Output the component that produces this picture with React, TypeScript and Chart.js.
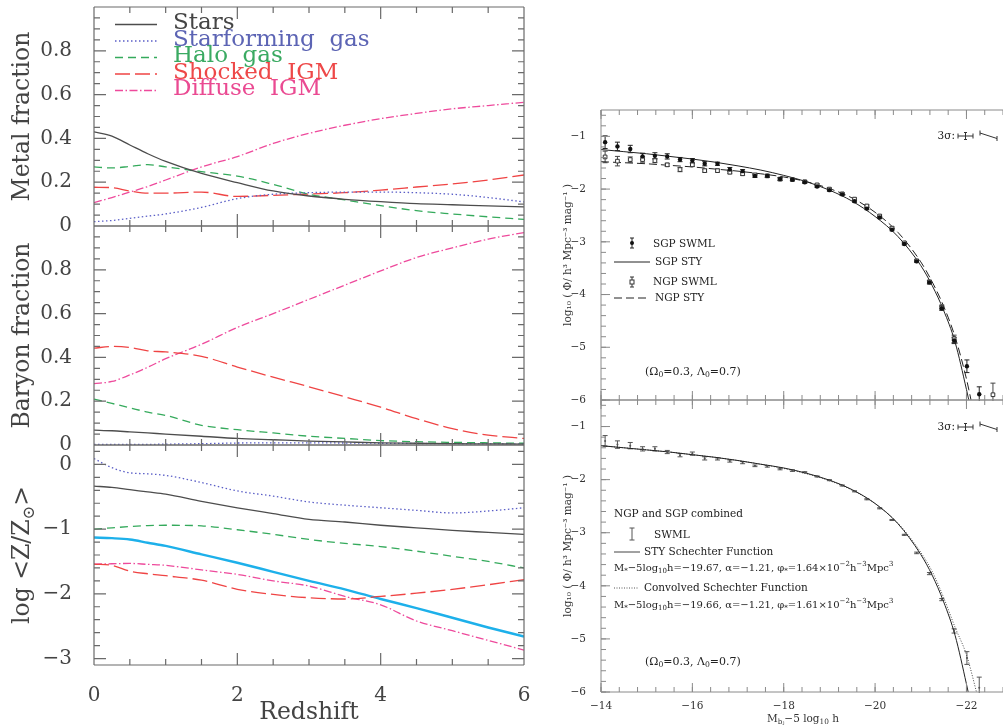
import React, { useEffect, useRef } from 'react';
import { Chart, registerables } from 'chart.js';
Chart.register(...registerables);

// ---------------- Left column data (redshift) ----------------
const Z = [0, 0.25, 0.5, 0.75, 1, 1.5, 2, 2.5, 3, 3.5, 4, 4.5, 5, 5.5, 6];
const Z_MAJOR = [0, 2, 4, 6];

const MF_STARS = [0.43, 0.41, 0.37, 0.33, 0.295, 0.24, 0.198, 0.16, 0.137, 0.122, 0.111, 0.102, 0.097, 0.092, 0.087];
const MF_SF = [0.02, 0.025, 0.035, 0.045, 0.055, 0.085, 0.125, 0.145, 0.152, 0.155, 0.155, 0.152, 0.145, 0.13, 0.11];
const MF_HALO = [0.27, 0.265, 0.272, 0.28, 0.27, 0.248, 0.228, 0.19, 0.145, 0.119, 0.093, 0.07, 0.055, 0.042, 0.03];
const MF_SHOCK = [0.177, 0.175, 0.16, 0.15, 0.15, 0.155, 0.135, 0.14, 0.146, 0.152, 0.164, 0.178, 0.192, 0.21, 0.233];
const MF_DIFF = [0.107, 0.13, 0.155, 0.18, 0.21, 0.27, 0.317, 0.377, 0.423, 0.46, 0.49, 0.514, 0.535, 0.55, 0.565];

const BF_STARS = [0.068, 0.065, 0.06, 0.055, 0.05, 0.04, 0.03, 0.024, 0.018, 0.014, 0.01, 0.008, 0.006, 0.005, 0.004];
const BF_SF = [0.003, 0.003, 0.003, 0.003, 0.004, 0.006, 0.009, 0.01, 0.01, 0.009, 0.008, 0.007, 0.006, 0.005, 0.004];
const BF_HALO = [0.21, 0.19, 0.17, 0.15, 0.135, 0.09, 0.07, 0.055, 0.04, 0.03, 0.02, 0.015, 0.012, 0.01, 0.008];
const BF_SHOCK = [0.442, 0.45, 0.445, 0.43, 0.425, 0.405, 0.356, 0.31, 0.266, 0.22, 0.173, 0.12, 0.075, 0.045, 0.03];
const BF_DIFF = [0.28, 0.29, 0.32, 0.355, 0.394, 0.46, 0.537, 0.6, 0.665, 0.73, 0.795, 0.856, 0.9, 0.94, 0.97];

const LZ_STARS = [-0.335, -0.355, -0.39, -0.425, -0.46, -0.57, -0.67, -0.76, -0.85, -0.89, -0.94, -0.98, -1.02, -1.05, -1.08];
const LZ_SF = [0.09, -0.05, -0.13, -0.145, -0.17, -0.28, -0.41, -0.49, -0.58, -0.63, -0.67, -0.71, -0.75, -0.72, -0.67];
const LZ_HALO = [-1.0, -0.98, -0.96, -0.945, -0.94, -0.95, -1.01, -1.08, -1.16, -1.22, -1.27, -1.34, -1.42, -1.5, -1.6];
const LZ_MEAN = [-1.13, -1.14, -1.16, -1.21, -1.26, -1.39, -1.52, -1.66, -1.8, -1.93, -2.08, -2.22, -2.37, -2.52, -2.66];
const LZ_SHOCK = [-1.54, -1.56, -1.65, -1.69, -1.72, -1.79, -1.93, -2.01, -2.06, -2.08, -2.04, -1.99, -1.93, -1.86, -1.78];
const LZ_DIFF = [-1.54, -1.535, -1.53, -1.545, -1.56, -1.63, -1.7, -1.8, -1.88, -2.04, -2.17, -2.42, -2.57, -2.72, -2.87];

const FRAC_LABELS = [0, 0.2, 0.4, 0.6, 0.8];
const LOGZ_LABELS = [-3, -2, -1, 0];

// ---------------- Right column data (luminosity function) ----------------
const LF_M = [-14.09, -14.36, -14.64, -14.91, -15.18, -15.45, -15.73, -16.0, -16.27, -16.55, -16.82, -17.1, -17.37, -17.64, -17.92, -18.19, -18.46, -18.73, -19.0, -19.28, -19.55, -19.82, -20.1, -20.37, -20.64, -20.91, -21.19, -21.46, -21.73, -22.01, -22.28];
const SGP_PHI = [-1.11, -1.19, -1.24, -1.38, -1.37, -1.38, -1.44, -1.46, -1.52, -1.52, -1.63, -1.66, -1.75, -1.75, -1.81, -1.82, -1.87, -1.95, -2.02, -2.1, -2.23, -2.37, -2.54, -2.77, -3.04, -3.37, -3.77, -4.26, -4.87, -5.36, -5.89];
const SGP_ERR = [0.12, 0.08, 0.07, 0.06, 0.06, 0.05, 0.04, 0.04, 0.04, 0.03, 0.04, 0.03, 0.03, 0.03, 0.03, 0.02, 0.02, 0.02, 0.02, 0.02, 0.02, 0.02, 0.02, 0.02, 0.02, 0.02, 0.03, 0.04, 0.06, 0.12, 0.14];

const NGP_M = [-14.09, -14.36, -14.64, -14.91, -15.18, -15.45, -15.73, -16.0, -16.27, -16.55, -16.82, -17.1, -17.37, -17.64, -17.92, -18.19, -18.46, -18.73, -19.0, -19.28, -19.55, -19.82, -20.1, -20.37, -20.64, -20.91, -21.19, -21.46, -21.73, -22.58];
const NGP_PHI = [-1.39, -1.47, -1.44, -1.44, -1.46, -1.54, -1.63, -1.54, -1.65, -1.65, -1.68, -1.71, -1.73, -1.75, -1.81, -1.82, -1.86, -1.92, -2.0, -2.09, -2.19, -2.32, -2.51, -2.74, -3.02, -3.36, -3.76, -4.24, -4.84, -5.9];
const NGP_ERR = [0.11, 0.09, 0.05, 0.05, 0.04, 0.03, 0.04, 0.03, 0.03, 0.03, 0.03, 0.03, 0.02, 0.02, 0.02, 0.02, 0.02, 0.02, 0.02, 0.02, 0.02, 0.02, 0.02, 0.02, 0.02, 0.02, 0.03, 0.04, 0.07, 0.22];

const COMB_PHI = [-1.27, -1.34, -1.36, -1.42, -1.42, -1.48, -1.54, -1.51, -1.6, -1.61, -1.65, -1.68, -1.74, -1.75, -1.8, -1.83, -1.86, -1.94, -2.01, -2.11, -2.22, -2.37, -2.54, -2.76, -3.04, -3.38, -3.77, -4.26, -4.85, -5.36, -5.92];
const COMB_ERR = [0.1, 0.07, 0.06, 0.04, 0.04, 0.03, 0.03, 0.03, 0.03, 0.02, 0.02, 0.02, 0.015, 0.015, 0.015, 0.015, 0.01, 0.01, 0.01, 0.01, 0.01, 0.01, 0.01, 0.01, 0.01, 0.015, 0.02, 0.02, 0.04, 0.12, 0.2];

const STY_M = [-14, -14.5, -15, -15.5, -16, -16.5, -17, -17.5, -18, -18.5, -19, -19.5, -20, -20.5, -21, -21.25, -21.5, -21.75, -22, -22.1];
const SGP_STY = [-1.25, -1.29, -1.33, -1.38, -1.43, -1.49, -1.56, -1.64, -1.74, -1.86, -2.02, -2.23, -2.52, -2.9, -3.45, -3.83, -4.3, -4.9, -5.8, -6.2];
const NGP_STY = [-1.48, -1.5, -1.52, -1.55, -1.58, -1.62, -1.66, -1.71, -1.77, -1.86, -1.99, -2.17, -2.44, -2.82, -3.38, -3.76, -4.22, -4.8, -5.6, -6.0];
const COMB_STY = [-1.36, -1.4, -1.44, -1.48, -1.53, -1.58, -1.64, -1.71, -1.78, -1.88, -2.01, -2.19, -2.45, -2.83, -3.41, -3.8, -4.3, -4.93, -5.85, -6.25];
const CONV_M = [-14, -14.5, -15, -15.5, -16, -16.5, -17, -17.5, -18, -18.5, -19, -19.5, -20, -20.5, -21, -21.25, -21.5, -21.75, -22, -22.25];
const CONV_STY = [-1.36, -1.4, -1.44, -1.48, -1.53, -1.58, -1.64, -1.71, -1.79, -1.89, -2.02, -2.2, -2.45, -2.82, -3.37, -3.73, -4.22, -4.78, -5.3, -6.1];

const MAG_LABELS = [-14, -16, -18, -20, -22];
const PHI_LABELS = [-6, -5, -4, -3, -2, -1];

// ---------------- Styling ----------------
const FAM = "'DejaVu Serif', serif";
const SERIES = [
  { name: 'Stars', color: '#4d4d4d', text: '#454545', dash: [] as number[] },
  { name: 'Starforming  gas', color: '#5b5fc7', text: '#5c64b4', dash: [1.5, 2.5] },
  { name: 'Halo  gas', color: '#35aa5c', text: '#3aaa62', dash: [8, 5] },
  { name: 'Shocked  IGM', color: '#ef4444', text: '#ee4848', dash: [15, 5] },
  { name: 'Diffuse  IGM', color: '#ee4a9c', text: '#ea4a92', dash: [8, 2.5, 1.5, 2.5] },
];
const MEAN_COLOR = '#1db0ea';

type Part = { t: string; sub?: boolean; sup?: boolean };

function fontStr(size: number) {
  return `${size}px ${FAM}`;
}

function drawRich(ctx: CanvasRenderingContext2D, parts: Part[], x: number, y: number, size: number, color: string, align: 'left' | 'center' | 'right' = 'left', rot = 0) {
  ctx.save();
  ctx.translate(x, y);
  if (rot) ctx.rotate(rot);
  ctx.fillStyle = color;
  ctx.textBaseline = 'middle';
  ctx.textAlign = 'left';
  const widths = parts.map((p) => {
    ctx.font = fontStr(p.sub || p.sup ? size * 0.7 : size);
    return ctx.measureText(p.t).width;
  });
  const total = widths.reduce((a, b) => a + b, 0);
  let cx = align === 'center' ? -total / 2 : align === 'right' ? -total : 0;
  parts.forEach((p, i) => {
    ctx.font = fontStr(p.sub || p.sup ? size * 0.7 : size);
    const dy = p.sub ? size * 0.3 : p.sup ? -size * 0.35 : 0;
    ctx.fillText(p.t, cx, dy);
    cx += widths[i];
  });
  ctx.restore();
}

function range(a: number, b: number, step: number) {
  const out: number[] = [];
  for (let v = a; v <= b + 1e-9; v += step) out.push(Math.round(v * 1000) / 1000);
  return out;
}

function lineDs(xs: number[], ys: number[], color: string, dash: number[], width = 1.3) {
  return {
    data: xs.map((x, i) => ({ x, y: ys[i] })),
    borderColor: color,
    backgroundColor: color,
    borderWidth: width,
    borderDash: dash,
    pointRadius: 0,
    cubicInterpolationMode: 'monotone',
    fill: false,
  };
}

type FrameCfg = {
  color: string; width: number; sides: string[];
  xMajor: number[]; xMinor: number[]; yMajor: number[]; yMinor: number[];
  xMajLen: number; xMinLen: number; yMajLen: number; yMinLen: number;
};

function framePlugin(cfg: FrameCfg) {
  return {
    id: 'frame',
    afterDatasetsDraw(chart: any) {
      const { ctx, chartArea: a, scales } = chart;
      const xs = scales.x, ys = scales.y;
      const L = a.left, R = a.right, T = a.top, B = a.bottom;
      const has = (s: string) => cfg.sides.includes(s);
      ctx.save();
      ctx.strokeStyle = cfg.color;
      ctx.lineWidth = cfg.width;
      ctx.setLineDash([]);
      ctx.beginPath();
      if (has('top')) { ctx.moveTo(L, T); ctx.lineTo(R, T); }
      if (has('bottom')) { ctx.moveTo(L, B); ctx.lineTo(R, B); }
      if (has('left')) { ctx.moveTo(L, T); ctx.lineTo(L, B); }
      if (has('right')) { ctx.moveTo(R, T); ctx.lineTo(R, B); }
      const xt = (vals: number[], len: number) => vals.forEach((v) => {
        const p = xs.getPixelForValue(v);
        if (p < L - 0.5 || p > R + 0.5) return;
        if (has('bottom')) { ctx.moveTo(p, B); ctx.lineTo(p, B - len); }
        if (has('top')) { ctx.moveTo(p, T); ctx.lineTo(p, T + len); }
      });
      const yt = (vals: number[], len: number) => vals.forEach((v) => {
        const p = ys.getPixelForValue(v);
        if (p < T - 0.5 || p > B + 0.5) return;
        if (has('left')) { ctx.moveTo(L, p); ctx.lineTo(L + len, p); }
        if (has('right')) { ctx.moveTo(R, p); ctx.lineTo(R - len, p); }
      });
      xt(cfg.xMajor, cfg.xMajLen);
      xt(cfg.xMinor, cfg.xMinLen);
      yt(cfg.yMajor, cfg.yMajLen);
      yt(cfg.yMinor, cfg.yMinLen);
      ctx.stroke();
      ctx.restore();
    },
  };
}

type ErrSpec = { index: number; errs: number[]; cap: number; color: string };
function errorPlugin(specs: ErrSpec[]) {
  return {
    id: 'errbars',
    beforeDatasetsDraw(chart: any) {
      const { ctx, chartArea: a, scales } = chart;
      const ys = scales.y;
      ctx.save();
      ctx.beginPath();
      ctx.rect(a.left, a.top, a.right - a.left, a.bottom - a.top + 1);
      ctx.clip();
      specs.forEach((sp) => {
        const meta = chart.getDatasetMeta(sp.index);
        const ds = chart.data.datasets[sp.index];
        ctx.strokeStyle = sp.color;
        ctx.lineWidth = 1;
        ctx.setLineDash([]);
        meta.data.forEach((el: any, i: number) => {
          const v = ds.data[i].y;
          const e = sp.errs[i];
          const x = el.x;
          const y1 = ys.getPixelForValue(v + e);
          const y2 = ys.getPixelForValue(v - e);
          ctx.beginPath();
          ctx.moveTo(x, y1); ctx.lineTo(x, y2);
          ctx.moveTo(x - sp.cap, y1); ctx.lineTo(x + sp.cap, y1);
          ctx.moveTo(x - sp.cap, y2); ctx.lineTo(x + sp.cap, y2);
          ctx.stroke();
        });
      });
      ctx.restore();
    },
  };
}

function annotPlugin(id: string, draw: (ctx: CanvasRenderingContext2D) => void) {
  return { id, afterDraw(chart: any) { draw(chart.ctx); } };
}

const LEFT_TICK_FONT = { family: FAM, size: 20 };
const LEFT_TITLE_FONT = { family: FAM, size: 23.5 };
const RIGHT_TICK_FONT = { family: FAM, size: 10.5 };

function fmtFrac(v: number) { return v === 0 ? '0' : v.toFixed(1); }
function fmtNeg(v: number) { return v === 0 ? '0' : (v < 0 ? '\u2212' : '') + Math.abs(v); }

function leftConfig(o: {
  datasets: any[]; yMin: number; yMax: number; yLabels: number[]; yFmt: (v: number) => string;
  yTitle: string | null; showX: boolean; padTop: number; xHeight: number;
  yMinor: number[]; yMajor: number[]; plugins: any[];
}) {
  return {
    type: 'line',
    data: { datasets: o.datasets },
    options: {
      responsive: false, maintainAspectRatio: false, animation: false, devicePixelRatio: 1, events: [],
      layout: { padding: { top: o.padTop, right: 16, left: 0, bottom: 0 } },
      plugins: { legend: { display: false }, tooltip: { enabled: false } },
      scales: {
        x: {
          type: 'linear', min: 0, max: 6,
          afterBuildTicks: (s: any) => { s.ticks = Z_MAJOR.map((v) => ({ value: v })); },
          afterFit: (s: any) => { s.height = o.xHeight; s.paddingLeft = 0; s.paddingRight = 0; },
          grid: { display: false }, border: { display: false },
          ticks: { display: o.showX, padding: 11, font: LEFT_TICK_FONT, color: '#444', maxRotation: 0, callback: (v: number) => String(v) },
          title: { display: o.showX, text: 'Redshift', font: LEFT_TITLE_FONT, color: '#444', padding: { top: 0, bottom: 1 } },
        },
        y: {
          type: 'linear', min: o.yMin, max: o.yMax,
          afterBuildTicks: (s: any) => { s.ticks = o.yLabels.map((v) => ({ value: v })); },
          afterFit: (s: any) => { s.width = 94; s.paddingTop = 0; s.paddingBottom = 0; },
          grid: { display: false }, border: { display: false },
          ticks: { padding: 14, font: LEFT_TICK_FONT, color: '#444', callback: (v: number) => o.yFmt(v) },
          title: { display: !!o.yTitle, text: o.yTitle || '', font: LEFT_TITLE_FONT, color: '#444', padding: { top: 9, bottom: 0 } },
        },
      },
    },
    plugins: [
      framePlugin({
        color: '#6a6a6a', width: 1.2, sides: ['top', 'bottom', 'left', 'right'],
        xMajor: Z_MAJOR, xMinor: range(0, 6, 0.5), yMajor: o.yMajor, yMinor: o.yMinor,
        xMajLen: 12, xMinLen: 6, yMajLen: 12, yMinLen: 6,
      }),
      ...o.plugins,
    ],
  };
}

function rightConfig(o: { datasets: any[]; showX: boolean; xHeight: number; plugins: any[] }) {
  return {
    type: 'line',
    data: { datasets: o.datasets },
    options: {
      responsive: false, maintainAspectRatio: false, animation: false, devicePixelRatio: 1, events: [],
      layout: { padding: { top: 10, right: 17, left: 0, bottom: 0 } },
      plugins: { legend: { display: false }, tooltip: { enabled: false } },
      scales: {
        x: {
          type: 'linear', min: -22.8, max: -14, reverse: true,
          afterBuildTicks: (s: any) => { s.ticks = MAG_LABELS.map((v) => ({ value: v })); },
          afterFit: (s: any) => { s.height = o.xHeight; s.paddingLeft = 0; s.paddingRight = 0; },
          grid: { display: false }, border: { display: false },
          ticks: { display: o.showX, padding: 0, font: RIGHT_TICK_FONT, color: '#333', maxRotation: 0, callback: (v: number) => fmtNeg(v) },
        },
        y: {
          type: 'linear', min: -6, max: -0.5,
          afterBuildTicks: (s: any) => { s.ticks = PHI_LABELS.map((v) => ({ value: v })); },
          afterFit: (s: any) => { s.width = 41; s.paddingTop = 0; s.paddingBottom = 0; },
          grid: { display: false }, border: { display: false },
          ticks: { padding: 7, font: RIGHT_TICK_FONT, color: '#333', callback: (v: number) => fmtNeg(v) },
          title: { display: true, text: 'log\u2081\u2080 ( \u03A6/ h\u00B3 Mpc\u207B\u00B3 mag\u207B\u00B9 )', font: { family: FAM, size: 10.5 }, color: '#333', padding: { top: 1.5, bottom: 0 } },
        },
      },
    },
    plugins: [
      framePlugin({
        color: '#8a8a8a', width: 1, sides: ['top', 'bottom', 'left'],
        xMajor: MAG_LABELS, xMinor: range(-22.8, -14, 0.4), yMajor: PHI_LABELS, yMinor: range(-6, -0.6, 0.2),
        xMajLen: 9, xMinLen: 5, yMajLen: 9, yMinLen: 5,
      }),
      ...o.plugins,
    ],
  };
}

// ---------- Annotation drawers (page coordinates minus canvas offset) ----------
function drawSigma(ctx: CanvasRenderingContext2D, ox: number, oy: number, yc: number) {
  const y = yc - oy;
  drawRich(ctx, [{ t: '3\u03C3:' }], 955 - ox, y, 10.5, '#222', 'right');
  ctx.save();
  ctx.strokeStyle = '#333';
  ctx.lineWidth = 1;
  ctx.setLineDash([]);
  ctx.beginPath();
  const x1 = 958 - ox, x2 = 973 - ox, xm = 965.5 - ox;
  ctx.moveTo(x1, y); ctx.lineTo(x2, y);
  ctx.moveTo(x1, y - 2.5); ctx.lineTo(x1, y + 2.5);
  ctx.moveTo(x2, y - 2.5); ctx.lineTo(x2, y + 2.5);
  ctx.moveTo(xm, y - 3.5); ctx.lineTo(xm, y + 3.5);
  ctx.moveTo(xm - 1.5, y - 3.5); ctx.lineTo(xm + 1.5, y - 3.5);
  ctx.moveTo(xm - 1.5, y + 3.5); ctx.lineTo(xm + 1.5, y + 3.5);
  const sx1 = 980 - ox, sy1 = y - 3, sx2 = 997 - ox, sy2 = y + 2.5;
  ctx.moveTo(sx1, sy1); ctx.lineTo(sx2, sy2);
  ctx.moveTo(sx1, sy1 - 2.5); ctx.lineTo(sx1, sy1 + 2.5);
  ctx.moveTo(sx2, sy2 - 2.5); ctx.lineTo(sx2, sy2 + 2.5);
  ctx.stroke();
  ctx.restore();
}

function seg(ctx: CanvasRenderingContext2D, x1: number, y1: number, x2: number, y2: number, color: string, dash: number[], w = 1) {
  ctx.save();
  ctx.strokeStyle = color; ctx.lineWidth = w; ctx.setLineDash(dash);
  ctx.beginPath(); ctx.moveTo(x1, y1); ctx.lineTo(x2, y2); ctx.stroke();
  ctx.restore();
}

function ibar(ctx: CanvasRenderingContext2D, x: number, y1: number, y2: number, cap: number, color: string) {
  ctx.save();
  ctx.strokeStyle = color; ctx.lineWidth = 1; ctx.setLineDash([]);
  ctx.beginPath();
  ctx.moveTo(x, y1); ctx.lineTo(x, y2);
  ctx.moveTo(x - cap, y1); ctx.lineTo(x + cap, y1);
  ctx.moveTo(x - cap, y2); ctx.lineTo(x + cap, y2);
  ctx.stroke();
  ctx.restore();
}

const OMEGA: Part[] = [{ t: '(\u03A9' }, { t: '0', sub: true }, { t: '=0.3, \u039B' }, { t: '0', sub: true }, { t: '=0.7)' }];

// ---------- Chart configs ----------
const LEGEND_Y = [24.5, 41, 57.5, 74, 90.5];

function makeL1() {
  const ys = [MF_STARS, MF_SF, MF_HALO, MF_SHOCK, MF_DIFF];
  return leftConfig({
    datasets: SERIES.map((s, i) => lineDs(Z, ys[i], s.color, s.dash)),
    yMin: 0, yMax: 1, yLabels: FRAC_LABELS, yFmt: fmtFrac, yTitle: 'Metal fraction', showX: false,
    padTop: 7, xHeight: 14, yMajor: [0, 0.2, 0.4, 0.6, 0.8, 1], yMinor: range(0, 1, 0.05),
    plugins: [annotPlugin('legendL', (ctx) => {
      SERIES.forEach((s, i) => {
        const y = LEGEND_Y[i];
        seg(ctx, 115, y, 157, y, s.color, s.dash, 1.3);
        drawRich(ctx, [{ t: s.name }], 173, y - 1, 23, s.text);
      });
    })],
  });
}

function makeL2() {
  const ys = [BF_STARS, BF_SF, BF_HALO, BF_SHOCK, BF_DIFF];
  return leftConfig({
    datasets: SERIES.map((s, i) => lineDs(Z, ys[i], s.color, s.dash)),
    yMin: 0, yMax: 1, yLabels: FRAC_LABELS, yFmt: fmtFrac, yTitle: 'Baryon fraction', showX: false,
    padTop: 6, xHeight: 15, yMajor: [0, 0.2, 0.4, 0.6, 0.8, 1], yMinor: range(0, 1, 0.05),
    plugins: [],
  });
}

function makeL3() {
  const ys = [LZ_STARS, LZ_SF, LZ_HALO, LZ_SHOCK, LZ_DIFF];
  const ds = SERIES.map((s, i) => lineDs(Z, ys[i], s.color, s.dash));
  ds.push(lineDs(Z, LZ_MEAN, MEAN_COLOR, [], 2.4));
  return leftConfig({
    datasets: ds,
    yMin: -3.1, yMax: 0.3, yLabels: LOGZ_LABELS, yFmt: fmtNeg, yTitle: null, showX: true,
    padTop: 5, xHeight: 63, yMajor: [-3, -2, -1, 0], yMinor: range(-3, 0.2, 0.2),
    plugins: [annotPlugin('titleL3', (ctx) => {
      drawRich(ctx, [{ t: 'log <Z/Z' }, { t: '\u2299', sub: true }, { t: '>' }], 23, 555 - 440, 23.5, '#444', 'center', -Math.PI / 2);
    })],
  });
}

function makeR1() {
  const ox = 560, oy = 100;
  return rightConfig({
    showX: false, xHeight: 10,
    datasets: [
      { data: LF_M.map((x, i) => ({ x, y: SGP_PHI[i] })), showLine: false, pointStyle: 'circle', pointRadius: 2.2, pointBackgroundColor: '#111', pointBorderWidth: 0, borderColor: '#111' },
      { data: NGP_M.map((x, i) => ({ x, y: NGP_PHI[i] })), showLine: false, pointStyle: 'rect', pointRadius: 2.6, pointBackgroundColor: '#fff', pointBorderColor: '#333', pointBorderWidth: 1, borderColor: '#333' },
      lineDs(STY_M, SGP_STY, '#222', [], 1),
      lineDs(STY_M, NGP_STY, '#222', [8, 4], 1),
    ],
    plugins: [
      errorPlugin([
        { index: 0, errs: SGP_ERR, cap: 2.5, color: '#222' },
        { index: 1, errs: NGP_ERR, cap: 2.5, color: '#444' },
      ]),
      annotPlugin('legendR1', (ctx) => {
        ibar(ctx, 632 - ox, 238 - oy, 248 - oy, 2, '#222');
        ctx.save(); ctx.fillStyle = '#111'; ctx.beginPath(); ctx.arc(632 - ox, 243 - oy, 2, 0, Math.PI * 2); ctx.fill(); ctx.restore();
        drawRich(ctx, [{ t: 'SGP SWML' }], 653 - ox, 244 - oy, 10.5, '#222');
        seg(ctx, 614 - ox, 262 - oy, 650 - ox, 262 - oy, '#222', []);
        drawRich(ctx, [{ t: 'SGP STY' }], 655 - ox, 262 - oy, 10.5, '#222');
        ibar(ctx, 632 - ox, 277 - oy, 287 - oy, 2, '#333');
        ctx.save(); ctx.fillStyle = '#fff'; ctx.strokeStyle = '#333'; ctx.fillRect(630 - ox, 280 - oy, 4, 4); ctx.strokeRect(630 - ox, 280 - oy, 4, 4); ctx.restore();
        drawRich(ctx, [{ t: 'NGP SWML' }], 653 - ox, 282 - oy, 10.5, '#222');
        seg(ctx, 614 - ox, 298 - oy, 650 - ox, 298 - oy, '#222', [8, 4]);
        drawRich(ctx, [{ t: 'NGP STY' }], 655 - ox, 298 - oy, 10.5, '#222');
        drawRich(ctx, OMEGA, 645 - ox, 372 - oy, 11, '#222');
        drawSigma(ctx, ox, oy, 136);
      }),
    ],
  });
}

function makeR2() {
  const ox = 560, oy = 390;
  return rightConfig({
    showX: true, xHeight: 36,
    datasets: [
      { data: LF_M.map((x, i) => ({ x, y: COMB_PHI[i] })), showLine: false, pointStyle: 'circle', pointRadius: 1, pointBackgroundColor: '#555', pointBorderWidth: 0, borderColor: '#555' },
      lineDs(STY_M, COMB_STY, '#222', [], 1),
      lineDs(CONV_M, CONV_STY, '#444', [1, 1.6], 1),
    ],
    plugins: [
      errorPlugin([{ index: 0, errs: COMB_ERR, cap: 2.5, color: '#555' }]),
      annotPlugin('legendR2', (ctx) => {
        drawRich(ctx, [{ t: 'NGP and SGP combined' }], 614 - ox, 514 - oy, 10.5, '#222');
        ibar(ctx, 632 - ox, 528 - oy, 540 - oy, 2.5, '#555');
        drawRich(ctx, [{ t: 'SWML' }], 654 - ox, 535 - oy, 10.5, '#222');
        seg(ctx, 614 - ox, 552 - oy, 640 - ox, 552 - oy, '#444', []);
        drawRich(ctx, [{ t: 'STY Schechter Function' }], 644 - ox, 552 - oy, 10.5, '#222');
        drawRich(ctx, [
          { t: 'M' }, { t: '*', sub: true }, { t: '\u22125log' }, { t: '10', sub: true },
          { t: 'h=\u221219.67, \u03B1=\u22121.21, \u03C6' }, { t: '*', sub: true },
          { t: '=1.64\u00D710' }, { t: '\u22122', sup: true }, { t: 'h' }, { t: '\u22123', sup: true }, { t: 'Mpc' }, { t: '3', sup: true },
        ], 614 - ox, 568 - oy, 10, '#222');
        seg(ctx, 614 - ox, 588 - oy, 638 - ox, 588 - oy, '#555', [1, 1.5]);
        drawRich(ctx, [{ t: 'Convolved Schechter Function' }], 644 - ox, 588 - oy, 10.5, '#222');
        drawRich(ctx, [
          { t: 'M' }, { t: '*', sub: true }, { t: '\u22125log' }, { t: '10', sub: true },
          { t: 'h=\u221219.66, \u03B1=\u22121.21, \u03C6' }, { t: '*', sub: true },
          { t: '=1.61\u00D710' }, { t: '\u22122', sup: true }, { t: 'h' }, { t: '\u22123', sup: true }, { t: 'Mpc' }, { t: '3', sup: true },
        ], 614 - ox, 605 - oy, 10, '#222');
        drawRich(ctx, OMEGA, 645 - ox, 662 - oy, 11, '#222');
        drawSigma(ctx, ox, oy, 427);
        drawRich(ctx, [{ t: 'M' }, { t: 'b\u2c7c', sub: true }, { t: '\u22125 log' }, { t: '10', sub: true }, { t: ' h' }], 803 - ox, 719 - oy, 10.5, '#333', 'center');
      }),
    ],
  });
}

function ChartCanvas(props: { left: number; top: number; width: number; height: number; make: () => any }) {
  const ref = useRef<HTMLCanvasElement>(null);
  useEffect(() => {
    const chart = new Chart(ref.current as HTMLCanvasElement, props.make());
    return () => chart.destroy();
  }, []);
  return (
    <canvas
      ref={ref}
      width={props.width}
      height={props.height}
      style={{ position: 'absolute', left: props.left, top: props.top, width: props.width, height: props.height }}
    />
  );
}

export default function App() {
  return (
    <div style={{ position: 'fixed', left: 0, top: 0, width: 1003, height: 728, overflow: 'hidden', background: '#fff' }}>
      <ChartCanvas left={0} top={0} width={540} height={240} make={makeL1} />
      <ChartCanvas left={0} top={220} width={540} height={240} make={makeL2} />
      <ChartCanvas left={0} top={440} width={540} height={288} make={makeL3} />
      <ChartCanvas left={560} top={100} width={460} height={310} make={makeR1} />
      <ChartCanvas left={560} top={390} width={460} height={338} make={makeR2} />
    </div>
  );
}
